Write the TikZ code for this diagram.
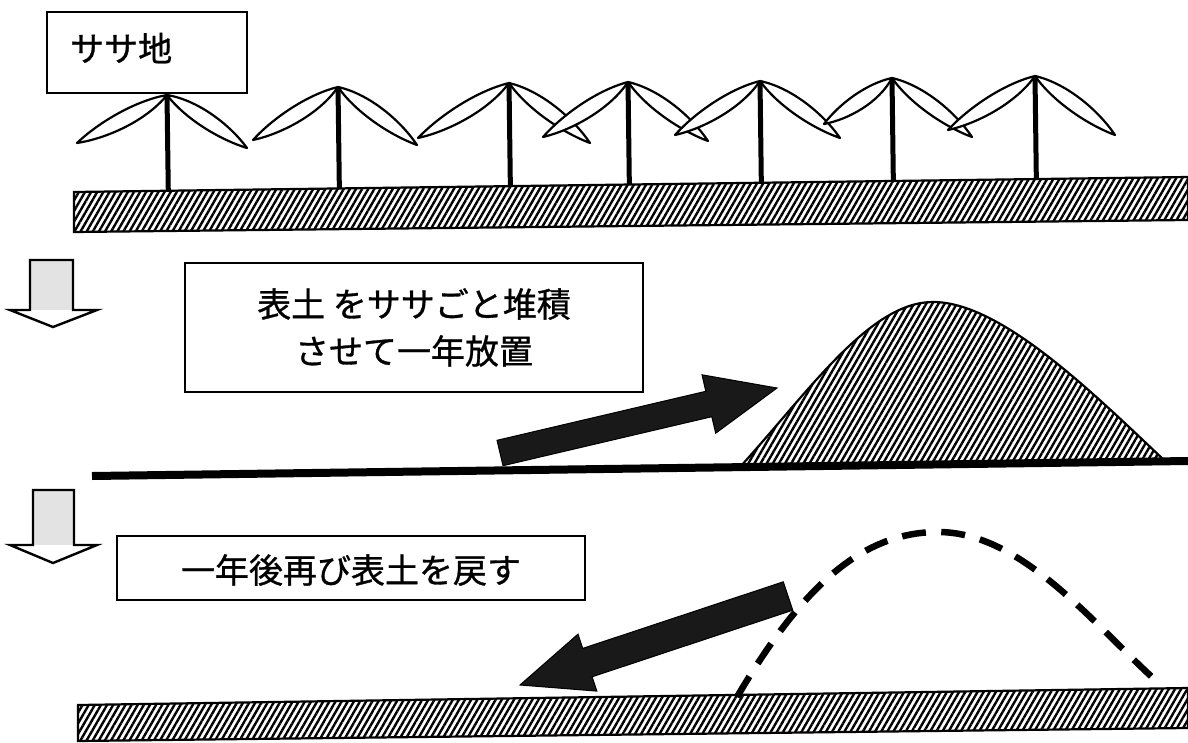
\documentclass[tikz,border=0pt]{standalone}
\usepackage{fontspec}
\newfontfamily\jp[FakeBold=0.9]{Noto Sans CJK JP}
\usetikzlibrary{calc,patterns.meta}

% one leaf: a pointed lens from the stem top #1 to the leaf tip #2
\newcommand\bambooleaf[2]{%
  \draw[leafline] (#1)
    .. controls ($(#1)!0.3!(#2)!13pt!90:(#2)$) and ($(#1)!0.72!(#2)!10pt!90:(#2)$) .. (#2)
    .. controls ($(#1)!0.72!(#2)!8pt!-90:(#2)$) and ($(#1)!0.3!(#2)!10pt!-90:(#2)$) .. (#1) -- cycle;}

\begin{document}
\begin{tikzpicture}[x=1pt,y=-1pt,
  box/.style={draw,line width=2pt,fill=white,inner sep=0pt},
  jptext/.style={font=\jp\fontsize{34}{47}\selectfont,inner sep=0pt,align=center},
  hatch/.style={pattern={Lines[angle=60,distance=5.3pt,line width=2.4pt]}},
  soilband/.style={draw,line width=2.2pt,hatch},
  leafline/.style={draw,line width=2.2pt,fill=white,line join=round},
  stemline/.style={line width=5pt},
  downarrow/.style={draw,line width=2.4pt,line join=miter},
  blockarrow/.style={fill=black!90,draw=black,line width=1pt,line join=miter},
  ground/.style={line width=8pt},
  oldmound/.style={line width=6.5pt,dash pattern=on 24pt off 15.4pt}]
\useasboundingbox (0,0) rectangle (1188,742);

% ---------- stage 1: bamboo grass on the soil ----------
\coordinate (gTL) at (74,192);
\coordinate (gTR) at (1188,177);
\coordinate (gBR) at (1188,220);
\coordinate (gBL) at (74,232);
\path[soilband] (gTL) -- (gTR) -- (gBR) -- (gBL) -- cycle;

\foreach \i/\sx/\sy/\lx/\ly/\rx/\ry in {
   1/167/95/77/143/247/148,
   2/338/87/253/140/417/145,
   3/509/83/418/138/590/143,
   4/628/82/543/137/708/141,
   5/760/81/675/135/840/138,
   6/892/78/824/124/972/137,
   7/1035/76/948/130/1115/135}{
  \coordinate (s\i) at (\sx,\sy);
  \coordinate (sl\i) at (\lx,\ly);
  \coordinate (sr\i) at (\rx,\ry);
  \bambooleaf{s\i}{sl\i}
  \bambooleaf{s\i}{sr\i}
  \draw[stemline] (s\i) -- ($(gTL)!(s\i)!(gTR)$);
}

\node[box,minimum width=200pt,minimum height=81pt] (b1) at (147,52.5) {};
\node[jptext,anchor=west] (t1) at (70,48) {ササ地};

% ---------- stage 2: topsoil piled up ----------
\fill[black!11] (30,260) rectangle (73,310);
\draw[downarrow] (30,260) -- (73,260) -- (73,310) -- (97,310) -- (53,327)
  -- (10,310) -- (30,310) -- cycle;

\node[box,jptext,minimum width=458pt,minimum height=129pt] (b2) at (414,327.5)
  {表土 をササごと堆積\\させて一年放置};

\coordinate (m0) at (740,467);
\coordinate (mtop) at (933,302);
\coordinate (m1) at (1165,461);
\draw[line width=2.2pt,hatch] (m0) .. controls (810,390) and (870,302) .. (mtop)
  .. controls (1000,302) and (1090,390) .. (m1);

\coordinate (l2a) at (92,476);
\coordinate (l2b) at (1188,461);
\draw[ground] (l2a) -- (l2b);

\path[blockarrow] (497.0,440.3) -- (705.8,391.3) -- (702.0,374.8) -- (777,388)
  -- (715.7,433.2) -- (711.8,416.7) -- (503.0,465.7) -- cycle;

% ---------- stage 3: topsoil returned ----------
\fill[black!11] (33,490) rectangle (74,545);
\draw[downarrow] (33,490) -- (74,490) -- (74,545) -- (97,545) -- (53,563)
  -- (10,545) -- (33,545) -- cycle;

\node[box,minimum width=468pt,minimum height=64pt] (b3) at (351,568) {};
\node[jptext] (t3) at (351,570) {一年後再び表土を戻す};

\coordinate (hTL) at (78,705);
\coordinate (hTR) at (1188,688);
\coordinate (hBR) at (1188,728);
\coordinate (hBL) at (78,741);
\path[soilband] (hTL) -- (hTR) -- (hBR) -- (hBL) -- cycle;

\coordinate (d0) at (737,697);
\coordinate (dtop) at (938,532);
\coordinate (d1) at (1153,678);
\draw[oldmound] (d0) .. controls (800,590) and (860,532) .. (dtop)
  .. controls (1020,532) and (1090,620) .. (d1);

\path[blockarrow] (783.3,581.8) -- (582.7,648.4) -- (578,634.1) -- (520,685)
  -- (596.9,691.1) -- (592.1,676.8) -- (792.7,610.2) -- cycle;
\end{tikzpicture}
\end{document}
